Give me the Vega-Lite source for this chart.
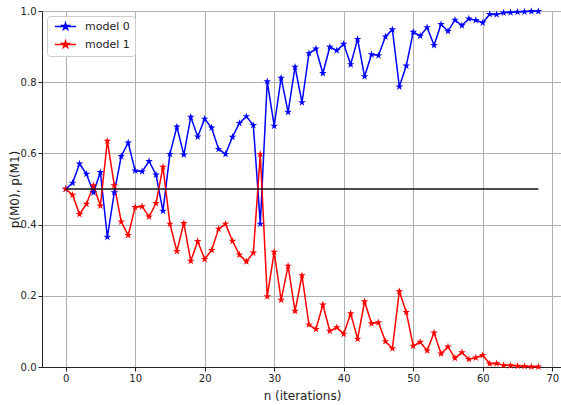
{
  "$schema": "https://vega.github.io/schema/vega-lite/v6.json",
  "width": 520,
  "height": 356,
  "autosize": {"type": "none"},
  "padding": {"left": 42, "top": 11, "right": 0, "bottom": 38},
  "background": "white",
  "config": {
    "font": "DejaVu Sans",
    "view": {"stroke": "#222222", "strokeWidth": 1},
    "axis": {
      "gridColor": "#b0b0b0",
      "gridWidth": 1,
      "domainColor": "#222222",
      "tickColor": "#222222",
      "labelColor": "#222222",
      "titleColor": "#222222",
      "labelFontSize": 10,
      "titleFontSize": 12,
      "titleFontWeight": "normal",
      "tickSize": 4
    }
  },
  "datasets": {
    "probs": [
      {"n": 0, "model 0": 0.500, "model 1": 0.500},
      {"n": 1, "model 0": 0.517, "model 1": 0.483},
      {"n": 2, "model 0": 0.571, "model 1": 0.429},
      {"n": 3, "model 0": 0.542, "model 1": 0.458},
      {"n": 4, "model 0": 0.490, "model 1": 0.510},
      {"n": 5, "model 0": 0.547, "model 1": 0.453},
      {"n": 6, "model 0": 0.365, "model 1": 0.635},
      {"n": 7, "model 0": 0.490, "model 1": 0.510},
      {"n": 8, "model 0": 0.592, "model 1": 0.408},
      {"n": 9, "model 0": 0.630, "model 1": 0.370},
      {"n": 10, "model 0": 0.551, "model 1": 0.449},
      {"n": 11, "model 0": 0.549, "model 1": 0.451},
      {"n": 12, "model 0": 0.578, "model 1": 0.422},
      {"n": 13, "model 0": 0.540, "model 1": 0.460},
      {"n": 14, "model 0": 0.438, "model 1": 0.562},
      {"n": 15, "model 0": 0.598, "model 1": 0.402},
      {"n": 16, "model 0": 0.675, "model 1": 0.325},
      {"n": 17, "model 0": 0.596, "model 1": 0.404},
      {"n": 18, "model 0": 0.702, "model 1": 0.298},
      {"n": 19, "model 0": 0.647, "model 1": 0.353},
      {"n": 20, "model 0": 0.697, "model 1": 0.303},
      {"n": 21, "model 0": 0.672, "model 1": 0.328},
      {"n": 22, "model 0": 0.612, "model 1": 0.388},
      {"n": 23, "model 0": 0.598, "model 1": 0.402},
      {"n": 24, "model 0": 0.646, "model 1": 0.354},
      {"n": 25, "model 0": 0.685, "model 1": 0.315},
      {"n": 26, "model 0": 0.704, "model 1": 0.296},
      {"n": 27, "model 0": 0.679, "model 1": 0.321},
      {"n": 28, "model 0": 0.402, "model 1": 0.598},
      {"n": 29, "model 0": 0.802, "model 1": 0.198},
      {"n": 30, "model 0": 0.677, "model 1": 0.323},
      {"n": 31, "model 0": 0.812, "model 1": 0.188},
      {"n": 32, "model 0": 0.716, "model 1": 0.284},
      {"n": 33, "model 0": 0.843, "model 1": 0.157},
      {"n": 34, "model 0": 0.743, "model 1": 0.257},
      {"n": 35, "model 0": 0.881, "model 1": 0.119},
      {"n": 36, "model 0": 0.894, "model 1": 0.106},
      {"n": 37, "model 0": 0.825, "model 1": 0.175},
      {"n": 38, "model 0": 0.899, "model 1": 0.101},
      {"n": 39, "model 0": 0.889, "model 1": 0.111},
      {"n": 40, "model 0": 0.907, "model 1": 0.093},
      {"n": 41, "model 0": 0.850, "model 1": 0.150},
      {"n": 42, "model 0": 0.921, "model 1": 0.079},
      {"n": 43, "model 0": 0.816, "model 1": 0.184},
      {"n": 44, "model 0": 0.878, "model 1": 0.122},
      {"n": 45, "model 0": 0.875, "model 1": 0.125},
      {"n": 46, "model 0": 0.928, "model 1": 0.072},
      {"n": 47, "model 0": 0.948, "model 1": 0.052},
      {"n": 48, "model 0": 0.787, "model 1": 0.213},
      {"n": 49, "model 0": 0.846, "model 1": 0.154},
      {"n": 50, "model 0": 0.941, "model 1": 0.059},
      {"n": 51, "model 0": 0.930, "model 1": 0.070},
      {"n": 52, "model 0": 0.954, "model 1": 0.046},
      {"n": 53, "model 0": 0.904, "model 1": 0.096},
      {"n": 54, "model 0": 0.963, "model 1": 0.037},
      {"n": 55, "model 0": 0.943, "model 1": 0.057},
      {"n": 56, "model 0": 0.975, "model 1": 0.025},
      {"n": 57, "model 0": 0.959, "model 1": 0.041},
      {"n": 58, "model 0": 0.978, "model 1": 0.022},
      {"n": 59, "model 0": 0.974, "model 1": 0.026},
      {"n": 60, "model 0": 0.967, "model 1": 0.033},
      {"n": 61, "model 0": 0.991, "model 1": 0.009},
      {"n": 62, "model 0": 0.990, "model 1": 0.010},
      {"n": 63, "model 0": 0.995, "model 1": 0.005},
      {"n": 64, "model 0": 0.996, "model 1": 0.004},
      {"n": 65, "model 0": 0.997, "model 1": 0.003},
      {"n": 66, "model 0": 0.998, "model 1": 0.002},
      {"n": 67, "model 0": 0.999, "model 1": 0.001},
      {"n": 68, "model 0": 0.999, "model 1": 0.001}
    ],
    "even": [
      {"n": 0, "p": 0.5},
      {"n": 68, "p": 0.5}
    ]
  },
  "layer": [
    {
      "data": {"name": "probs"},
      "transform": [{"fold": ["model 0", "model 1"], "as": ["model", "p"]}],
      "mark": {
        "type": "line",
        "strokeWidth": 1.5,
        "point": {
          "shape": "M0,-1L0.225,-0.309L0.951,-0.309L0.363,0.118L0.588,0.809L0,0.382L-0.588,0.809L-0.363,0.118L-0.951,-0.309L-0.225,-0.309Z",
          "size": 64,
          "filled": true
        }
      },
      "encoding": {
        "x": {
          "field": "n",
          "type": "quantitative",
          "scale": {"domain": [-3.4, 71.4], "nice": false, "zero": false},
          "axis": {"values": [0, 10, 20, 30, 40, 50, 60, 70], "title": "n (iterations)", "titlePadding": 7}
        },
        "y": {
          "field": "p",
          "type": "quantitative",
          "scale": {"domain": [0, 1], "nice": false},
          "axis": {"values": [0, 0.2, 0.4, 0.6, 0.8, 1.0], "format": ".1f", "title": "p(M0), p(M1)", "titlePadding": -1}
        },
        "color": {
          "field": "model",
          "type": "nominal",
          "scale": {"domain": ["model 0", "model 1"], "range": ["#0000ff", "#ff0000"]},
          "legend": {
            "title": null,
            "orient": "top-left",
            "offset": 5,
            "fillColor": "white",
            "strokeColor": "#cccccc",
            "cornerRadius": 3,
            "padding": 5,
            "labelFontSize": 11,
            "labelColor": "#222222",
            "symbolType": "M-3,0L3,0M0,-1L0.225,-0.309L0.951,-0.309L0.363,0.118L0.588,0.809L0,0.382L-0.588,0.809L-0.363,0.118L-0.951,-0.309L-0.225,-0.309Z",
            "symbolSize": 50,
            "symbolStrokeWidth": 1.5,
            "symbolOffset": 8,
            "labelOffset": 14,
            "rowPadding": 4,
            "encode": {
              "symbols": {"update": {"fill": {"scale": "color", "field": "value"}}}
            }
          }
        }
      }
    },
    {
      "data": {"name": "even"},
      "mark": {"type": "line", "color": "#111111", "strokeWidth": 1.5},
      "encoding": {
        "x": {"field": "n", "type": "quantitative"},
        "y": {"field": "p", "type": "quantitative"}
      }
    }
  ]
}
